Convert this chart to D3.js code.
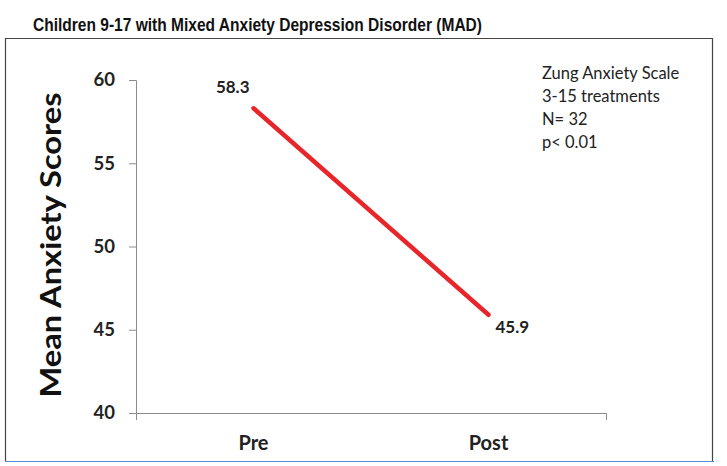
<!DOCTYPE html>
<html><head><meta charset="utf-8">
<script src="https://cdn.jsdelivr.net/npm/d3@7"></script>
<style>body{margin:0;background:#fff}svg{display:block}</style>
</head><body>
<script>
const categories = ["Pre", "Post"];
const values = [58.3, 45.9];
const valueLabels = ["58.3", "45.9"];
const yTicks = [40, 45, 50, 55, 60];
const title = "Children 9-17 with Mixed Anxiety Depression Disorder (MAD)";
const yTitle = "Mean Anxiety Scores";
const notes = ["Zung Anxiety Scale", "3-15 treatments", "N= 32", "p< 0.01"];

const W = 727, H = 466;
const svg = d3.select("body").append("svg").attr("width", W).attr("height", H);
const font = "Lato, 'Open Sans', sans-serif";

// frame
svg.append("path").attr("d", "M5.5,461 V38.5 H712.5 V461").attr("fill", "none").attr("stroke", "#444").attr("stroke-width", 1.2);
svg.append("line").attr("x1", 5).attr("x2", 714).attr("y1", 461.5).attr("y2", 461.5).attr("stroke", "#5b8ad0").attr("stroke-width", 1.2);

// title
svg.append("text").attr("x", 257.5).attr("y", 31).attr("text-anchor", "middle")
  .attr("font-family", "'Liberation Sans', Arial, sans-serif").attr("font-weight", "bold")
  .attr("font-size", 18).attr("fill", "#111")
  .attr("textLength", 449).attr("lengthAdjust", "spacingAndGlyphs").text(title);

const x = d3.scaleBand().domain(categories).range([136, 606]);
const y = d3.scaleLinear().domain([40, 60]).range([413, 80]);

// y axis
const ya = svg.append("g").attr("transform", "translate(136,0)")
  .call(d3.axisLeft(y).tickValues(yTicks).tickSize(7).tickPadding(14).tickFormat(d3.format("d")));
ya.select(".domain").attr("stroke", "#8c8c8c");
ya.selectAll(".tick line").attr("stroke", "#8c8c8c");
ya.selectAll("text").attr("font-family", font).attr("font-weight", "bold").attr("font-size", 18.5).attr("fill", "#222");

// x axis
const xa = svg.append("g").attr("transform", "translate(0,413)")
  .call(d3.axisBottom(x).tickSize(0).tickPadding(37));
xa.select(".domain").attr("stroke", "#8c8c8c").attr("d", "M136.5,7V0.5H606.5V7");
xa.selectAll("text").attr("dy", "0").attr("font-family", font).attr("font-weight", "bold").attr("font-size", 20).attr("fill", "#222");

// y title
svg.append("text").attr("transform", "translate(61,245) rotate(-90)").attr("text-anchor", "middle")
  .attr("font-family", font).attr("font-weight", "bold").attr("font-size", 29).attr("fill", "#111")
  .attr("textLength", 305).attr("lengthAdjust", "spacingAndGlyphs").text(yTitle);

// line
const pts = categories.map((c, i) => [x(c) + x.bandwidth() / 2, y(values[i])]);
svg.append("path").attr("d", d3.line()(pts)).attr("stroke", "#e8262a").attr("stroke-width", 4.5)
  .attr("fill", "none").attr("stroke-linecap", "round");

// value labels
svg.append("text").attr("x", pts[0][0] - 4).attr("y", y(values[0]) - 15).attr("text-anchor", "end")
  .attr("font-family", font).attr("font-weight", "bold").attr("font-size", 17).attr("fill", "#222").text(valueLabels[0]);
svg.append("text").attr("x", pts[1][0] + 7).attr("y", y(values[1]) + 18).attr("text-anchor", "start")
  .attr("font-family", font).attr("font-weight", "bold").attr("font-size", 17).attr("fill", "#222").text(valueLabels[1]);

// notes
svg.append("g").selectAll("text").data(notes).join("text")
  .attr("x", 542).attr("y", (d, i) => 79 + i * 23)
  .attr("font-family", font).attr("font-size", 16.5).attr("fill", "#222").text(d => d);
</script>
</body></html>
